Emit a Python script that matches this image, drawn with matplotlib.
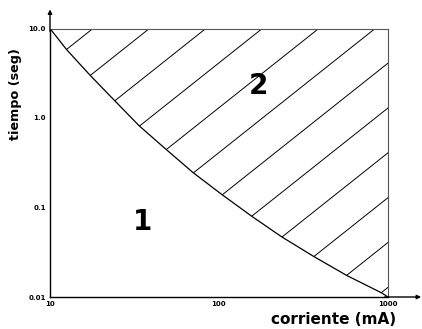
import numpy as np
import matplotlib.pyplot as plt
from matplotlib.patches import Polygon

# curva limite (corriente en mA, tiempo en seg)
corriente = [10, 12.55, 17.25, 24.0, 33.7, 48.5, 70.5, 103.8, 156, 235, 361, 570, 918, 1000]
tiempo = [10.0, 5.80, 3.01, 1.58, 0.818, 0.448, 0.244, 0.140, 0.080, 0.047, 0.0286, 0.0174, 0.0111, 0.01]

x_ticks = [10, 100, 1000]
x_labels = ["10", "100", "1000"]
y_ticks = [0.01, 0.1, 1.0, 10.0]
y_labels = ["0.01", "0.1", "1.0", "10.0"]

fig = plt.figure(figsize=(4.22, 3.29), dpi=100)
ax = fig.add_axes([50 / 422, 1 - 297 / 329, 338 / 422, 268.5 / 329])
ax.set_xscale("log")
ax.set_yscale("log")
ax.set_xlim(10, 1000)
ax.set_ylim(0.01, 10)

# zona 2: por encima de la curva
pts = list(zip(corriente, tiempo)) + [(1000, 10)]
poly = Polygon(pts, closed=True, facecolor="none", edgecolor="none", transform=ax.transData)
ax.add_patch(poly)
ax.plot(corriente, tiempo, color="black", lw=0.9)

# rayado
for x0 in np.arange(0.127, 2.1, 0.167):
    ln, = ax.plot([x0 - 1.2, x0 + 0.2], [-0.2, 1.2], color="black", lw=0.7,
                  transform=ax.transAxes)
    ln.set_clip_path(poly)

ax.spines["top"].set_color("#555555")
ax.spines["right"].set_color("#555555")
ax.spines["left"].set_linewidth(1.0)
ax.spines["bottom"].set_linewidth(1.0)

ax.annotate("", xy=(1.098, 0), xytext=(0.99, 0), xycoords="axes fraction",
            arrowprops=dict(arrowstyle="-|>", color="black", lw=1.0, mutation_scale=6,
                            shrinkA=0, shrinkB=0))
ax.annotate("", xy=(0, 1.071), xytext=(0, 0.99), xycoords="axes fraction",
            arrowprops=dict(arrowstyle="-|>", color="black", lw=1.0, mutation_scale=6,
                            shrinkA=0, shrinkB=0))

ax.set_xticks(x_ticks)
ax.set_xticklabels(x_labels, fontsize=5, fontweight="bold")
ax.set_yticks(y_ticks)
ax.set_yticklabels(y_labels, fontsize=5, fontweight="bold")
ax.minorticks_off()
ax.tick_params(length=0, pad=3)

ax.text(35.5, 0.069, "1", fontsize=20, fontweight="bold", ha="center", va="center")
ax.text(172, 2.3, "2", fontsize=20, fontweight="bold", ha="center", va="center")

fig.text(16 / 422, 1 - 94 / 329, "tiempo (seg)", rotation=90, fontsize=9.2,
         fontweight="bold", ha="center", va="center")
fig.text(334 / 422, 1 - 320 / 329, "corriente (mA)", fontsize=11,
         fontweight="bold", ha="center", va="center")

fig.savefig("out.png", dpi=100)
